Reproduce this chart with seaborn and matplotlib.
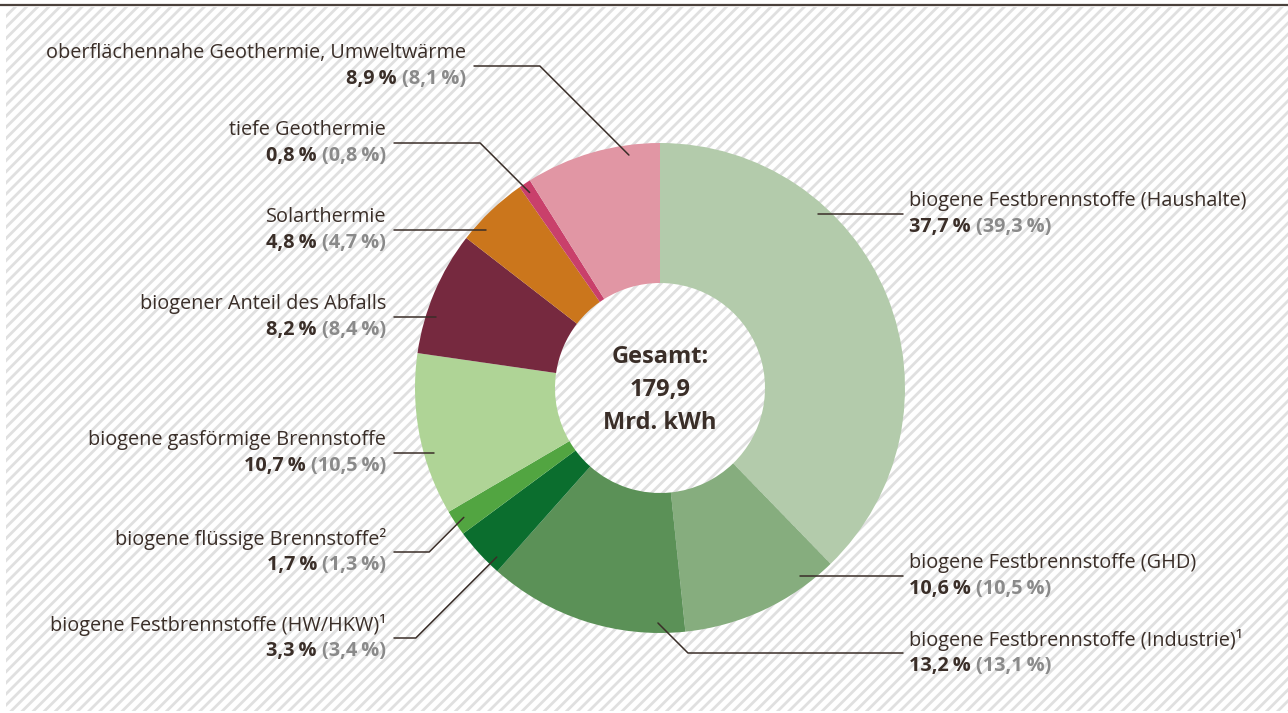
import numpy as np
import seaborn as sns
import matplotlib.pyplot as plt
from matplotlib.patches import Rectangle

## data
labels = ["biogene Festbrennstoffe (Haushalte)",
          "biogene Festbrennstoffe (GHD)",
          "biogene Festbrennstoffe (Industrie)¹",
          "biogene Festbrennstoffe (HW/HKW)¹",
          "biogene flüssige Brennstoffe²",
          "biogene gasförmige Brennstoffe",
          "biogener Anteil des Abfalls",
          "Solarthermie",
          "tiefe Geothermie",
          "oberflächennahe Geothermie, Umweltwärme"]
share = [37.7, 10.6, 13.2, 3.3, 1.7, 10.7, 8.2, 4.8, 0.8, 8.9]
share_prev = [39.3, 10.5, 13.1, 3.4, 1.3, 10.5, 8.4, 4.7, 0.8, 8.1]
colors = ["#b3cbab", "#86ad7e", "#5b9157", "#0b6e2e", "#52a541",
          "#afd496", "#76293f", "#cb761c", "#c9406b", "#e196a4"]
total_text = "Gesamt:\n179,9\nMrd. kWh"

## layout (pixels, y measured from top)
W, H = 1288, 713
cx, cy = 660, H - 388
R, ring = 245, 140
anchor_deg = [42.4, 143.3, 180.5, 224, 236.6, 254, 287.6, 312.4, 326.3, 352.4]
anchor_r = 235
line_y = [None, None, 653, 638, 552, None, None, None, 143, 66]
side = ["r", "r", "r", "l", "l", "l", "l", "l", "l", "l"]
text_x = [909, 909, 909, 386, 386, 386, 386, 386, 386, 466]

dark = "#3a2e28"
grey = "#8a8a8a"

sns.set_theme(style="white")
plt.rcParams['font.family'] = ['Open Sans', 'DejaVu Sans']
plt.rcParams['hatch.linewidth'] = 2.0

fig = plt.figure(figsize=(W / 100, H / 100), dpi=100)
ax = fig.add_axes([0, 0, 1, 1])

# hatched background + top rule
bg = Rectangle((6, 2), W - 6, 704, facecolor="white", edgecolor="#e0e0e0",
               hatch="///", linewidth=0, zorder=0)
ax.add_patch(bg)
ax.plot([0, W], [H - 5, H - 5], color="#4b413c", lw=1.6, zorder=1)

pal = sns.color_palette(colors)
ax.pie(share, colors=pal, startangle=90, counterclock=False, radius=R,
       center=(cx, cy), wedgeprops=dict(width=ring, linewidth=0), normalize=True)
ax.set_xlim(0, W)
ax.set_ylim(0, H)
ax.set_aspect('equal')
ax.axis('off')

ax.text(cx, cy - 2, total_text, ha='center', va='center', fontsize=17,
        fontweight='bold', color=dark, linespacing=1.5)

renderer = fig.canvas.get_renderer()
fs = 14.3
for i, lab in enumerate(labels):
    th = np.deg2rad(anchor_deg[i])
    ax_x = cx + anchor_r * np.sin(th)
    ax_y = cy + anchor_r * np.cos(th)
    if line_y[i] is None:
        ly = ax_y
        pts = [(ax_x, ax_y)]
    else:
        ly = H - line_y[i]
        d = abs(ly - ax_y)
        ex = ax_x + d if side[i] == "r" else ax_x - d
        pts = [(ax_x, ax_y), (ex, ly)]
    end_x = text_x[i] - 6 if side[i] == "r" else text_x[i] + 8
    pts.append((end_x, ly))
    xs, ys = zip(*pts)
    ax.plot(xs, ys, color=dark, lw=1.1, zorder=3)

    bold = f"{share[i]:.1f}\u2009%".replace(".", ",")
    prev = f"({share_prev[i]:.1f}\u2009%)".replace(".", ",")
    y1, y2 = ly + 13, ly - 13
    if side[i] == "r":
        ax.text(text_x[i], y1, lab, ha='left', va='center', fontsize=fs, color=dark)
        tb = ax.text(text_x[i], y2, bold, ha='left', va='center', fontsize=fs,
                     fontweight='bold', color=dark)
        w = tb.get_window_extent(renderer=renderer).width
        ax.text(text_x[i] + w + 5, y2, prev, ha='left', va='center', fontsize=fs,
                fontweight='bold', color=grey)
    else:
        ax.text(text_x[i], y1, lab, ha='right', va='center', fontsize=fs, color=dark)
        tg = ax.text(text_x[i], y2, prev, ha='right', va='center', fontsize=fs,
                     fontweight='bold', color=grey)
        w = tg.get_window_extent(renderer=renderer).width
        ax.text(text_x[i] - w - 5, y2, bold, ha='right', va='center', fontsize=fs,
                fontweight='bold', color=dark)

plt.savefig("out.png", dpi=100)
